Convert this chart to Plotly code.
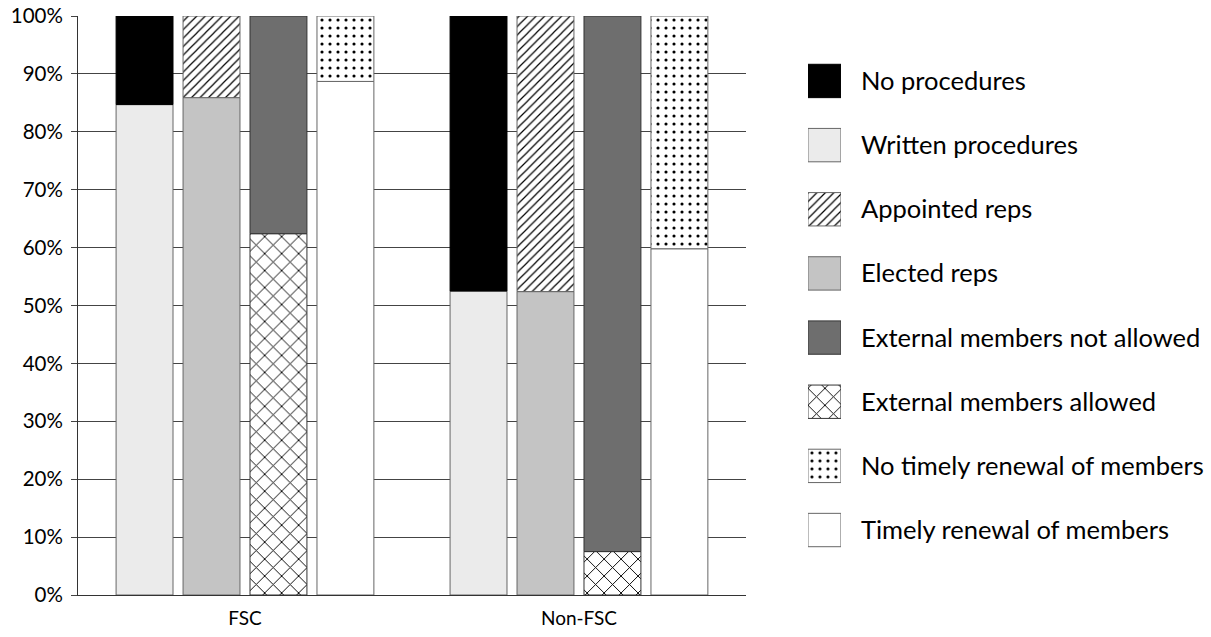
import plotly.graph_objects as go

# grupos y series (porcentajes)
groups = ["FSC", "Non-FSC"]

written_procedures = [84.7, 52.5]
no_procedures = [15.3, 47.5]
elected_reps = [85.9, 52.4]
appointed_reps = [14.1, 47.6]
ext_allowed = [62.4, 7.5]
ext_not_allowed = [37.6, 92.5]
timely_renewal = [88.7, 59.8]
no_timely_renewal = [11.3, 40.2]

y_ticks = list(range(0, 101, 10))
y_tick_labels = [f"{v}%" for v in y_ticks]

legend_names = [
    "No procedures", "Written procedures", "Appointed reps", "Elected reps",
    "External members not allowed", "External members allowed",
    "No timely renewal of members", "Timely renewal of members",
]

FONT = "Lato, 'Open Sans', sans-serif"
EDGE = "#666666"


def solid(color, line=EDGE):
    return dict(color=color, line=dict(color=line, width=1))


def patt(shape, size, solidity, line=EDGE):
    return dict(color="white", line=dict(color=line, width=1),
                pattern=dict(shape=shape, fgcolor="black", bgcolor="white",
                             size=size, solidity=solidity, fillmode="replace"))


STYLES = {
    "No procedures": solid("#000000", "#000000"),
    "Written procedures": solid("#ebebeb"),
    "Appointed reps": patt("/", 6, 0.2),
    "Elected reps": solid("#c4c4c4"),
    "External members not allowed": solid("#6e6e6e", "#333333"),
    "External members allowed": patt("x", 12, 0.15, "#333333"),
    "No timely renewal of members": patt(".", 8, 0.12),
    "Timely renewal of members": solid("#ffffff"),
}


def stacked(names, base_vals, top_vals, group):
    b = go.Bar(x=groups, y=base_vals, name=names[0], offsetgroup=group,
               showlegend=False, marker=STYLES[names[0]])
    t = go.Bar(x=groups, y=top_vals, base=base_vals, name=names[1],
               offsetgroup=group, showlegend=False, marker=STYLES[names[1]])
    return [b, t]


fig = go.Figure()
traces = []
traces += stacked(("Written procedures", "No procedures"),
                  written_procedures, no_procedures, "1")
traces += stacked(("Elected reps", "Appointed reps"),
                  elected_reps, appointed_reps, "2")
traces += stacked(("External members allowed", "External members not allowed"),
                  ext_allowed, ext_not_allowed, "3")
traces += stacked(("Timely renewal of members", "No timely renewal of members"),
                  timely_renewal, no_timely_renewal, "4")
for tr in traces:
    fig.add_trace(tr)

# leyenda dibujada como barras en un eje aparte (cuadros grandes)
for name in legend_names:
    fig.add_trace(go.Bar(
        x=[1], y=[name], orientation="h", xaxis="x2", yaxis="y2",
        width=0.52, offset=-0.26, showlegend=False, hoverinfo="skip",
        marker=STYLES[name],
    ))

fig.update_layout(
    width=1211, height=637,
    barmode="group", bargap=0.198, bargroupgap=0.15,
    plot_bgcolor="white", paper_bgcolor="white",
    font=dict(family=FONT, size=20, color="black"),
    margin=dict(l=78, r=10, t=16, b=42, autoexpand=False),
    xaxis=dict(domain=[0, 0.5948], showgrid=False, showline=True,
               linecolor="#333333", ticks="", automargin=False,
               ticklabelstandoff=6, tickfont=dict(size=19)),
    yaxis=dict(range=[0, 100], tickvals=y_ticks, ticktext=y_tick_labels,
               showgrid=True, gridcolor="#444444", gridwidth=1,
               showline=True, linecolor="#333333", ticks="outside",
               ticklen=6, tickcolor="#444444", zeroline=False,
               ticklabelstandoff=4, automargin=False,
               ticklabeloverflow="allow", tickfont=dict(size=20.5)),
    xaxis2=dict(domain=[0.650, 0.6794], range=[0, 1], anchor="y2",
                visible=False, fixedrange=True),
    yaxis2=dict(domain=[0.0568, 0.9432], anchor="x2", side="right",
                autorange="reversed", showgrid=False, showline=False,
                ticks="", ticklabelstandoff=19, zeroline=False,
                automargin=False, ticklabeloverflow="allow",
                tickfont=dict(size=25.5, color="black")),
)

# quitar el margen por defecto del body para que la figura ocupe la ventana
fig.write_html("out.html", config={"displayModeBar": False},
               post_script="document.body.style.margin='0';")
